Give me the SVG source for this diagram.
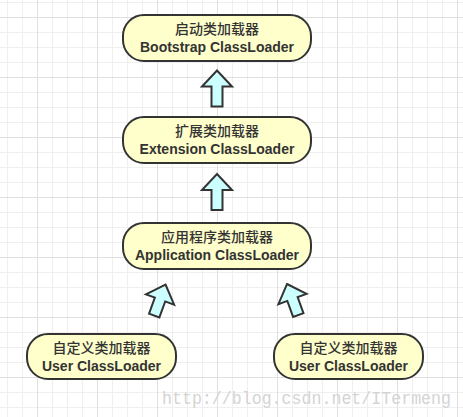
<svg xmlns="http://www.w3.org/2000/svg" width="463" height="417" viewBox="0 0 463 417">
  <style>
    .box { fill: #ffffcc; stroke: #333333; stroke-width: 2; }
    .arrow { fill: #ccffff; stroke: #333333; stroke-width: 2; stroke-linejoin: miter; }
    .cn { font-family: "Noto Sans CJK SC", "Noto Sans", sans-serif; font-size: 14px; font-weight: 500; fill: #333333; text-anchor: middle; }
    .en { font-family: "Liberation Sans", Arial, sans-serif; font-size: 14px; font-weight: bold; fill: #333333; text-anchor: middle; }
    .wm { font-family: "Liberation Mono", monospace; font-size: 19px; fill: #d4d4d4; }
  </style>
  <defs>
    <pattern id="grid" patternUnits="userSpaceOnUse" x="37" y="17" width="60" height="60">
      <path d="M15.5,0V60M30.5,0V60M45.5,0V60M0,15.5H60M0,30.5H60M0,45.5H60" stroke="#efefef" stroke-width="1" fill="none"/>
      <path d="M0.5,0V60M0,0.5H60" stroke="#e0e0e0" stroke-width="1" fill="none"/>
    </pattern>
    <path id="arr" d="M0,0 L15,16 L5.5,16 L5.5,36 L-5.5,36 L-5.5,16 L-15,16 Z"/>
    <path id="arrd" d="M0,0 L15,16 L5.5,16 L5.5,33 L-5.5,33 L-5.5,16 L-15,16 Z"/>
  </defs>
  <rect width="463" height="417" fill="#ffffff"/>
  <rect width="463" height="417" fill="url(#grid)"/>

  <g id="connectors">
    <use href="#arr" class="arrow" transform="translate(217,70.5)"/>
    <use href="#arr" class="arrow" transform="translate(217,174)"/>
    <use href="#arrd" class="arrow" transform="translate(165.5,284.5) rotate(20)"/>
    <use href="#arrd" class="arrow" transform="translate(287,284) rotate(-20)"/>
  </g>

  <g id="bootstrap">
    <rect class="box" x="123" y="15" width="188" height="46" rx="21"/>
    <text class="cn" x="217" y="34">启动类加载器</text>
    <text class="en" x="217" y="52">Bootstrap ClassLoader</text>
  </g>
  <g id="extension">
    <rect class="box" x="123" y="117" width="188" height="46" rx="21"/>
    <text class="cn" x="217" y="136">扩展类加载器</text>
    <text class="en" x="217" y="154">Extension ClassLoader</text>
  </g>
  <g id="application">
    <rect class="box" x="123" y="223" width="188" height="46" rx="21"/>
    <text class="cn" x="217" y="242">应用程序类加载器</text>
    <text class="en" x="217" y="259.5">Application ClassLoader</text>
  </g>
  <g id="user1">
    <rect class="box" x="27" y="334" width="149" height="45" rx="21"/>
    <text class="cn" x="101.5" y="353">自定义类加载器</text>
    <text class="en" x="101.5" y="371">User ClassLoader</text>
  </g>
  <g id="user2">
    <rect class="box" x="274" y="334" width="149" height="45" rx="21"/>
    <text class="cn" x="348.5" y="353">自定义类加载器</text>
    <text class="en" x="348.5" y="371">User ClassLoader</text>
  </g>

  <text class="wm" x="162" y="404" textLength="289" lengthAdjust="spacingAndGlyphs">http://blog.csdn.net/ITermeng</text>
</svg>
